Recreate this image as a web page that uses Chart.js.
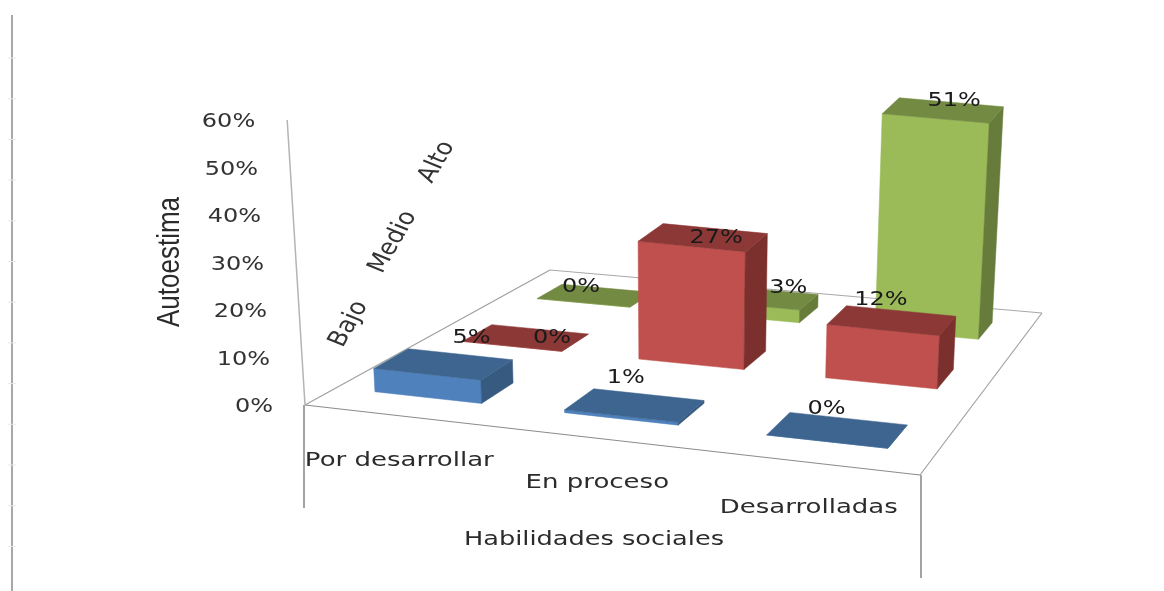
<!DOCTYPE html>
<html>
<head>
<meta charset="utf-8">
<style>
  html, body { margin: 0; padding: 0; background: #fff; }
  canvas { display: block; }
</style>
<script src="https://cdn.jsdelivr.net/npm/chart.js@4"></script>
</head>
<body>
<canvas id="chart3d" width="1164" height="591"></canvas>
<script>
const categories = ['Por desarrollar', 'En proceso', 'Desarrolladas'];
const seriesNames = ['Bajo', 'Medio', 'Alto'];
const bajo = [5, 0.6, 0];
const medio = [0, 26.5, 12];
const alto = [0, 3, 51];
const valueTicks = [0, 10, 20, 30, 40, 50, 60];

const faces = [
    { front: '#4f81bd', top: '#3d6590', side: '#375a80' },
    { front: '#c0504d', top: '#8c3836', side: '#7c302e' },
    { front: '#9bbb59', top: '#738a42', side: '#677c3a' },
];

// floor of the box: front left, front right, back right, back left
const floorQuad = [[305, 405], [920, 475], [1042, 313], [550, 270]];
const vanish = [678, 6373];
const barU = 0.095;
const barV = 0.062;
const barShiftU = -0.002;
const textStretch = 1.2;

// label nudges from the middle of the top of each bar
const labelNudge = [
    [[28, -26], [-9, -27], [-11, -21]],
    [[26, 0], [13, 0], [-11, -21]],
    [[-14, -9], [28, -10], [11, -9]],
];
const seriesLabelAt = [[349, 324], [393, 242], [437, 162]];

function quadMap(q) {
    const [[x0, y0], [x1, y1], [x2, y2], [x3, y3]] = q;
    const dx1 = x1 - x2, dx2 = x3 - x2, sx = x0 - x1 + x2 - x3;
    const dy1 = y1 - y2, dy2 = y3 - y2, sy = y0 - y1 + y2 - y3;
    const det = dx1 * dy2 - dx2 * dy1;
    const g = (sx * dy2 - dx2 * sy) / det;
    const h = (dx1 * sy - sx * dy1) / det;
    const a = x1 - x0 + g * x1, b = x3 - x0 + h * x3;
    const d = y1 - y0 + g * y1, e = y3 - y0 + h * y3;
    return (u, v) => {
        const w = g * u + h * v + 1;
        return [(a * u + b * v + x0) / w, (d * u + e * v + y0) / w];
    };
}
const floorAt = quadMap(floorQuad);

function raise(p, px) {
    const t = px / (vanish[1] - p[1]);
    return [p[0] + (p[0] - vanish[0]) * t, p[1] - px];
}

// bars further back are drawn a little shorter than the axis
function depthScale(v) {
    return 1 - 0.13 * v;
}

function poly(ctx, pts, color) {
    ctx.fillStyle = color;
    ctx.strokeStyle = color;
    ctx.lineWidth = 0.5;
    ctx.beginPath();
    pts.forEach((p, i) => (i ? ctx.lineTo(p[0], p[1]) : ctx.moveTo(p[0], p[1])));
    ctx.closePath();
    ctx.fill();
    ctx.stroke();
}

function line(ctx, a, b, color, width) {
    ctx.strokeStyle = color;
    ctx.lineWidth = width;
    ctx.beginPath();
    ctx.moveTo(a[0], a[1]);
    ctx.lineTo(b[0], b[1]);
    ctx.stroke();
}

function label(ctx, str, x, y, opts) {
    const o = Object.assign({ font: '20px "DejaVu Sans"', color: '#2b2b2b', align: 'center', angle: 0, sx: textStretch }, opts);
    ctx.save();
    ctx.translate(x, y);
    ctx.scale(o.sx, 1);
    ctx.rotate(o.angle);
    ctx.font = o.font;
    ctx.fillStyle = o.color;
    ctx.textAlign = o.align;
    ctx.textBaseline = 'middle';
    ctx.fillText(str, 0, 0);
    ctx.restore();
}

const box3d = {
    id: 'box3d',
    beforeDatasetsDraw(chart) {
        const ctx = chart.ctx;
        const y = chart.scales.y;
        const x = chart.scales.x;
        const area = chart.chartArea;

        // sheet edge on the left with its faint marks
        line(ctx, [12, 15], [12, 591], '#a8a8a8', 2);
        for (let i = 0; i < 13; i++) {
            line(ctx, [8, 58 + i * 40.7], [16, 58 + i * 40.7], '#e8e8e8', 1);
        }

        // box lines
        const [a, b, c, d] = floorQuad;
        line(ctx, a, b, '#8c8c8c', 1.2);
        line(ctx, b, c, '#a0a0a0', 1.2);
        line(ctx, c, d, '#a8a8a8', 1.2);
        line(ctx, d, a, '#a0a0a0', 1.2);
        line(ctx, [304, 405], [304, 508], '#8c8c8c', 1.6);
        line(ctx, [921, 475], [921, 578], '#8c8c8c', 1.6);
        line(ctx, a, raise(a, y.getPixelForValue(0) - y.getPixelForValue(60)), '#b4b4b4', 1.5);

        // value axis, leaning with the box
        y.ticks.forEach(t => {
            const px = y.getPixelForValue(0) - y.getPixelForValue(t.value);
            const p = raise(a, px);
            label(ctx, t.value + '%', p[0] - 32, p[1] + 2, { align: 'right', color: '#333' });
        });
        label(ctx, 'Autoestima', 170, 262, { font: '26px "Liberation Sans"', angle: -Math.PI / 2, sx: 1.2 });

        categories.forEach((name, i) => {
            const u = (x.getPixelForValue(i) - area.left) / area.width;
            const p = floorAt(u, 0);
            label(ctx, name, p[0], p[1] + 45, { sx: 1.3 });
        });
        label(ctx, 'Habilidades sociales', 594, 540, { sx: 1.28 });

        seriesNames.forEach((name, j) => {
            label(ctx, name, seriesLabelAt[j][0], seriesLabelAt[j][1], { angle: -1.12, color: '#333', font: '22px "DejaVu Sans"' });
        });
    },
    beforeDatasetDraw(chart, args) {
        const ctx = chart.ctx;
        const x = chart.scales.x;
        const area = chart.chartArea;
        const j = args.index;
        const v = (j + 0.5) / seriesNames.length;
        const col = faces[j];
        args.meta.data.forEach((el, i) => {
            const u = (x.getPixelForValue(i) - area.left) / area.width + barShiftU;
            const px = (el.base - el.y) * depthScale(v);
            const fl = floorAt(u - barU, v - barV), fr = floorAt(u + barU, v - barV);
            const br = floorAt(u + barU, v + barV), bl = floorAt(u - barU, v + barV);
            const tfl = raise(fl, px), tfr = raise(fr, px), tbr = raise(br, px), tbl = raise(bl, px);
            poly(ctx, [fl, fr, tfr, tfl], col.front);
            poly(ctx, [fr, br, tbr, tfr], col.side);
            poly(ctx, [tfl, tfr, tbr, tbl], col.top);
        });
        return false; // the flat bars are replaced by the boxes
    },
    afterDatasetsDraw(chart) {
        const ctx = chart.ctx;
        const x = chart.scales.x;
        const area = chart.chartArea;
        chart.data.datasets.forEach((ds, j) => {
            const v = (j + 0.5) / seriesNames.length;
            const meta = chart.getDatasetMeta(j);
            meta.data.forEach((el, i) => {
                const u = (x.getPixelForValue(i) - area.left) / area.width + barShiftU;
                const top = raise(floorAt(u, v), (el.base - el.y) * depthScale(v));
                const n = labelNudge[j][i];
                label(ctx, Math.round(ds.data[i]) + '%', top[0] + n[0], top[1] + n[1], { color: '#1a1a1a' });
            });
        });
    },
};

new Chart(document.getElementById('chart3d'), {
    type: 'bar',
    data: {
        labels: categories,
        datasets: [
            { label: seriesNames[0], data: bajo, backgroundColor: faces[0].front },
            { label: seriesNames[1], data: medio, backgroundColor: faces[1].front },
            { label: seriesNames[2], data: alto, backgroundColor: faces[2].front },
        ],
    },
    options: {
        responsive: false,
        animation: false,
        layout: { padding: { top: 120, bottom: 186, left: 305, right: 122 } },
        plugins: { legend: { display: false }, tooltip: { enabled: false } },
        scales: {
            x: { display: false },
            y: {
                min: valueTicks[0],
                max: valueTicks[valueTicks.length - 1],
                ticks: { display: false, stepSize: 10 },
                grid: { display: false },
                border: { display: false },
            },
        },
    },
    plugins: [box3d],
});
</script>
</body>
</html>
